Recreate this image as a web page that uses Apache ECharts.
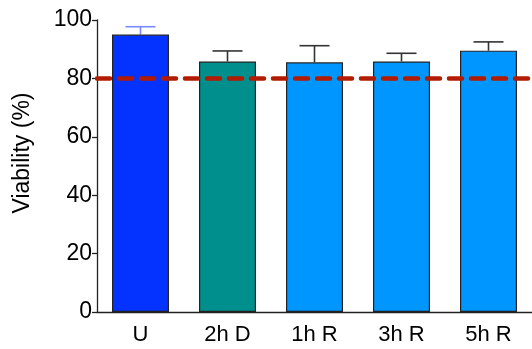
<!DOCTYPE html>
<html><head><meta charset="utf-8">
<script src="https://cdn.jsdelivr.net/npm/echarts@6/dist/echarts.min.js"></script>
<style>html,body{margin:0;padding:0;background:#fff}#c{width:532px;height:349px}</style>
</head><body><div id="c"></div>
<script>
var categories = ['U', '2h D', '1h R', '3h R', '5h R'];
var means = [95.0, 85.8, 85.5, 85.8, 89.5];
var upperErr = [97.7, 89.4, 91.2, 88.6, 92.5];
var barColors = ['#0432FF', '#008F8C', '#0096FF', '#0096FF', '#0096FF'];
var errColors = ['#7B8BFF', '#333333', '#333333', '#333333', '#333333'];
var yTicks = [0, 20, 40, 60, 80, 100];
var threshold = 80;

var chart = echarts.init(document.getElementById('c'), null, {renderer: 'canvas'});
var font = 'Liberation Sans, Arial, sans-serif';
chart.setOption({
  animation: false,
  grid: {left: 97, top: 20, width: 437, height: 292, containLabel: false},
  xAxis: {
    type: 'category', data: categories,
    axisLine: {lineStyle: {color: '#222', width: 1.3}},
    axisTick: {alignWithLabel: true, length: 5, lineStyle: {color: '#222', width: 1.3}},
    axisLabel: {color: '#000', fontSize: 22, fontFamily: font, margin: 12}
  },
  yAxis: {
    type: 'value', min: 0, max: 100, interval: 20,
    name: 'Viability (%)', nameLocation: 'middle', nameGap: 63,
    nameTextStyle: {color: '#000', fontSize: 23, fontFamily: font, padding: [0, 0, 0, 26]},
    axisLine: {show: true, lineStyle: {color: '#222', width: 1.3}},
    axisTick: {show: true, length: 5, lineStyle: {color: '#222', width: 1.3}},
    splitLine: {show: false},
    axisLabel: {color: '#000', fontSize: 23, fontFamily: font, margin: 5,
      formatter: function (v) { return yTicks.indexOf(v) >= 0 ? String(v) : ''; }}
  },
  series: [
    {
      type: 'custom', z: 1,
      renderItem: function (params, api) {
        var i = api.value(0);
        var base = api.coord([i, api.value(1)]);
        var top = api.coord([i, api.value(2)]);
        var c = errColors[i];
        return {type: 'group', children: [
          {type: 'line', shape: {x1: base[0], y1: base[1], x2: top[0], y2: top[1]}, style: {stroke: c, lineWidth: 1.6}},
          {type: 'line', shape: {x1: top[0] - 15, y1: top[1], x2: top[0] + 15, y2: top[1]}, style: {stroke: c, lineWidth: 1.6}}
        ]};
      },
      data: categories.map(function (c, i) { return [i, means[i], upperErr[i]]; })
    },
    {
      type: 'bar', z: 2, barWidth: 57,
      data: means.map(function (v, i) { return {value: v, itemStyle: {color: barColors[i]}}; }),
      itemStyle: {borderColor: '#222', borderWidth: 1.2},
      markLine: {
        silent: true, symbol: 'none', label: {show: false},
        lineStyle: {color: '#B31B00', width: 4.5, type: [13, 9], cap: 'round'},
        data: [{yAxis: threshold}]
      }
    }
  ]
});
</script></body></html>
